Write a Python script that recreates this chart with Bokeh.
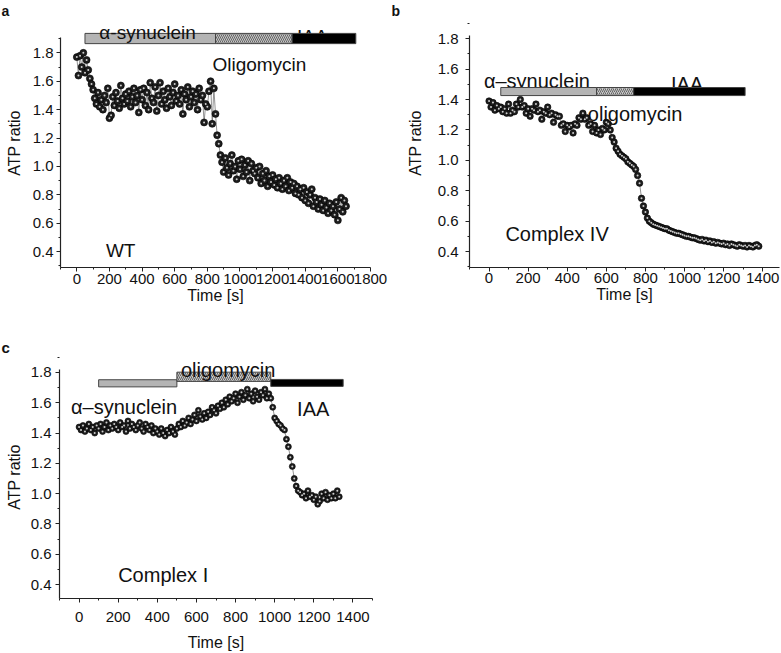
from bokeh.plotting import figure
from bokeh.layouts import column, row
from bokeh.models import FixedTicker, Range1d, PrintfTickFormatter
from bokeh.core.properties import value
from bokeh.embed import file_html
from bokeh.resources import INLINE

FONT = "Liberation Sans"

# ---------------- data ----------------
time_a = list(range(0, 1660, 10))
atp_a = [1.77, 1.64, 1.78, 1.70, 1.80, 1.66, 1.75, 1.68, 1.62, 1.58,
         1.54, 1.48, 1.44, 1.52, 1.42, 1.47, 1.40, 1.50, 1.45, 1.55,
         1.34, 1.36, 1.49, 1.43, 1.52, 1.46, 1.41, 1.57, 1.48, 1.44,
         1.51, 1.46, 1.53, 1.42, 1.49, 1.55, 1.45, 1.50, 1.38, 1.54,
         1.47, 1.55, 1.43, 1.52, 1.40, 1.59, 1.48, 1.45, 1.56, 1.39,
         1.50, 1.59, 1.44, 1.53, 1.47, 1.41, 1.55, 1.49, 1.43, 1.52,
         1.58, 1.46, 1.50, 1.44, 1.54, 1.37, 1.51, 1.47, 1.56, 1.42,
         1.49, 1.53, 1.45, 1.51, 1.40, 1.55, 1.47, 1.50, 1.31, 1.44,
         1.42, 1.53, 1.60, 1.30, 1.55, 1.37, 1.22, 1.16, 1.08, 1.03,
         0.96, 1.06, 0.99, 0.94, 1.02, 1.08, 0.97, 1.00, 0.91, 1.04,
         0.98, 1.05, 0.93, 1.01, 0.96, 1.04, 0.90, 1.02, 0.97, 0.95,
         0.99, 0.92, 1.00, 0.88, 0.95, 0.90, 0.97, 0.86, 0.93, 0.89,
         0.94, 0.87, 0.91, 0.85, 0.92, 0.88, 0.84, 0.90, 0.86, 0.92,
         0.83, 0.89, 0.85, 0.88, 0.81, 0.86, 0.80, 0.84, 0.78, 0.85,
         0.76, 0.82, 0.74, 0.80, 0.84, 0.72, 0.78, 0.75, 0.70, 0.77,
         0.73, 0.69, 0.76, 0.71, 0.67, 0.74, 0.69, 0.72, 0.66, 0.75,
         0.62, 0.70, 0.78, 0.68, 0.76, 0.72]

time_b = list(range(0, 1390, 10))
atp_b = [1.39, 1.35, 1.38, 1.33, 1.36, 1.34, 1.35, 1.32, 1.34, 1.31,
         1.37, 1.31, 1.33, 1.32, 1.37, 1.35, 1.40, 1.35, 1.36, 1.31,
         1.34, 1.29, 1.34, 1.33, 1.37, 1.32, 1.33, 1.27, 1.32, 1.31,
         1.35, 1.30, 1.31, 1.25, 1.30, 1.29, 1.29, 1.23, 1.24, 1.19,
         1.23, 1.22, 1.23, 1.18, 1.24, 1.23, 1.28, 1.27, 1.31, 1.27,
         1.28, 1.23, 1.24, 1.19, 1.23, 1.18, 1.20, 1.17, 1.21, 1.20,
         1.25, 1.24, 1.20, 1.15, 1.12, 1.08, 1.06, 1.04, 1.03, 1.02,
         1.01, 0.99, 0.98, 0.97, 0.96, 0.94, 0.90, 0.85, 0.75, 0.70,
         0.66, 0.62, 0.60, 0.59, 0.58, 0.575, 0.57, 0.565, 0.56, 0.555,
         0.55, 0.55, 0.54, 0.535, 0.53, 0.525, 0.52, 0.52, 0.515, 0.51,
         0.505, 0.50, 0.50, 0.495, 0.49, 0.49, 0.485, 0.48, 0.475, 0.48,
         0.47, 0.475, 0.465, 0.47, 0.46, 0.465, 0.455, 0.46, 0.455, 0.45,
         0.455, 0.445, 0.45, 0.44, 0.45, 0.445, 0.44, 0.435, 0.445, 0.44,
         0.435, 0.44, 0.43, 0.44, 0.435, 0.43, 0.44, 0.445, 0.435]

time_c = list(range(0, 1340, 10))
atp_c = [1.44, 1.42, 1.45, 1.41, 1.43, 1.46, 1.42, 1.44, 1.40, 1.45,
         1.43, 1.46, 1.41, 1.44, 1.47, 1.42, 1.45, 1.43, 1.46, 1.44,
         1.42, 1.47, 1.44, 1.45, 1.41, 1.48, 1.43, 1.46, 1.44, 1.42,
         1.45, 1.47, 1.43, 1.41, 1.46, 1.44, 1.42, 1.45, 1.40, 1.43,
         1.41, 1.39, 1.43, 1.40, 1.38, 1.42, 1.40, 1.44, 1.41, 1.39,
         1.43, 1.46, 1.44, 1.48, 1.45, 1.47, 1.50, 1.46, 1.49, 1.52,
         1.48, 1.55, 1.51, 1.49, 1.53, 1.50, 1.54, 1.52, 1.57, 1.55,
         1.53, 1.58, 1.56, 1.60, 1.57, 1.62, 1.59, 1.64, 1.61, 1.63,
         1.66, 1.60, 1.64, 1.67, 1.62, 1.65, 1.69, 1.63, 1.66, 1.61,
         1.68, 1.64, 1.62, 1.67, 1.65, 1.69, 1.63, 1.66, 1.63, 1.57,
         1.50, 1.48, 1.46, 1.45, 1.43, 1.42, 1.36, 1.31, 1.24, 1.18,
         1.10, 1.05, 1.02, 1.01, 0.99, 1.00, 0.97, 1.02, 0.98, 0.99,
         0.96, 0.98, 0.93, 0.95, 1.00, 0.97, 1.01, 0.96, 0.99, 0.97,
         1.00, 0.97, 1.02, 0.98]

# treatment periods [s]: alpha-synuclein, oligomycin, IAA
treat_a = [(50, 850), (850, 1320), (1320, 1710)]
treat_b = [(60, 550), (550, 740), (740, 1310)]
treat_c = [(100, 500), (500, 980), (980, 1350)]

y_ticks = [0.4, 0.6, 0.8, 1.0, 1.2, 1.4, 1.6, 1.8]
y_minor = [0.3, 0.5, 0.7, 0.9, 1.1, 1.3, 1.5, 1.7, 1.9]
x_ticks_a = [0, 200, 400, 600, 800, 1000, 1200, 1400, 1600, 1800]
x_ticks_bc = [0, 200, 400, 600, 800, 1000, 1200, 1400]


def make_panel(letter, letter_size, t, v, width, height, bl, br, bt, bb, xr, yr, ybound,
               xticks, lab_std, ax_std, xlab_std, xax_std, msize):
    p = figure(width=width, height=height, output_backend="svg",
               toolbar_location=None, x_range=Range1d(*xr), y_range=Range1d(*yr),
               min_border_left=bl, min_border_right=br,
               min_border_top=bt, min_border_bottom=bb)
    p.title.text = letter
    p.title.text_font = FONT
    p.title.text_font_size = letter_size
    p.title.text_font_style = "bold"
    p.title.text_color = "#111111"
    p.title.align = "left"
    p.title.offset = -bl + 1
    p.title.standoff = 0
    p.outline_line_color = None
    p.grid.visible = False
    p.background_fill_color = "white"
    xminor = [x + 100 for x in [-200] + xticks]
    p.xaxis.ticker = FixedTicker(ticks=xticks, minor_ticks=xminor)
    p.yaxis.ticker = FixedTicker(ticks=y_ticks, minor_ticks=y_minor)
    p.yaxis.formatter = PrintfTickFormatter(format="%.1f")
    p.xaxis.formatter = PrintfTickFormatter(format="%d")
    p.yaxis.bounds = (yr[0], ybound)
    for ax in (p.xaxis[0], p.yaxis[0]):
        ax.axis_line_color = "#222222"
        ax.axis_line_width = 1.2
        ax.major_tick_line_color = "#222222"
        ax.minor_tick_line_color = "#222222"
        ax.major_tick_out = 4
        ax.major_tick_in = 0
        ax.minor_tick_out = 2
        ax.minor_tick_in = 0
        ax.major_label_text_font = FONT
        ax.major_label_text_font_size = "15px"
        ax.major_label_text_color = "#111111"
        ax.axis_label_text_font = FONT
        ax.axis_label_text_font_size = "16px"
        ax.axis_label_text_font_style = "normal"
        ax.axis_label_text_color = "#111111"
    p.yaxis.axis_label = "ATP ratio"
    p.xaxis.axis_label = "Time [s]"
    p.yaxis.major_label_standoff = lab_std
    p.yaxis.axis_label_standoff = ax_std
    p.xaxis.major_label_standoff = xlab_std
    p.xaxis.axis_label_standoff = xax_std
    p.line(t, v, line_color="#666666", line_width=0.7)
    p.scatter(t, v, size=msize, fill_color="#1e1e1e", line_color="#000000", line_width=0.6)
    p.scatter(t, v, size=2, fill_color="#cfcfcf", line_color=None)
    return p


def add_bars(p, treat, ys, hatch):
    fills = ["#b4b4b4", "#c8c8c8", "#000000"]
    for i, (s, e) in enumerate(treat):
        y0, y1 = ys[i]
        if i == 1:
            p.quad(left=[s], right=[e], bottom=[y0], top=[y1], fill_color=fills[i],
                   line_color="#444444", line_width=1, hatch_pattern=hatch,
                   hatch_color="#4a4a4a", hatch_scale=4, hatch_weight=0.8)
        else:
            p.quad(left=[s], right=[e], bottom=[y0], top=[y1], fill_color=fills[i],
                   line_color="#444444", line_width=1)


def add_text(p, x, y, s, size="20px"):
    p.text(x=[x], y=[y], text=[s], text_font=value(FONT), text_font_size=value(size),
           text_align="center", text_baseline="alphabetic", text_color="#111111")


# ---------------- panel a ----------------
pa = make_panel("a", "14px", time_a, atp_a, 390, 316, 60, 20, 18, 48, (-100, 1800),
                (0.288, 2.042), 1.905, x_ticks_a, 3, 7, 2, 0, 7)
add_text(pa, 1443, 1.913, "IAA", "19px")
add_bars(pa, treat_a, [(1.865, 1.937)] * 3, "\\")
add_text(pa, 434, 1.944, "α-synuclein", "19px")
add_text(pa, 1119, 1.717, "Oligomycin", "19px")
add_text(pa, 269, 0.409, "WT", "19px")

# ---------------- panel b ----------------
pb = make_panel("b", "14px", time_b, atp_b, 391, 316, 79, 2, 18, 49, (-100, 1486),
                (0.295, 1.933), 1.82, x_ticks_bc, 7, 11, 1, 0, 6.5)
add_text(pb, 245, 1.525, "α–synuclein")
add_text(pb, 1013, 1.503, "IAA")
add_bars(pb, treat_b, [(1.426, 1.479)] * 3, "/")
add_text(pb, 747, 1.306, "oligomycin")
add_text(pb, 348, 0.516, "Complex IV")

# ---------------- panel c ----------------
pc = make_panel("c", "15px", time_c, atp_c, 390, 337, 59, 18, 39, 55, (-100, 1500),
                (0.308, 1.912), 1.82, x_ticks_bc, 4, 5, 9, 9, 6)
add_bars(pc, treat_c, [(1.705, 1.752), (1.741, 1.802), (1.708, 1.754)], "/")
add_text(pc, 762, 1.813, "oligomycin")
add_text(pc, 230, 1.571, "α–synuclein")
add_text(pc, 1197, 1.56, "IAA")
add_text(pc, 430, 0.46, "Complex I")

layout = column(row(pa, pb), pc)
open("out.html", "w").write(file_html(layout, INLINE))
